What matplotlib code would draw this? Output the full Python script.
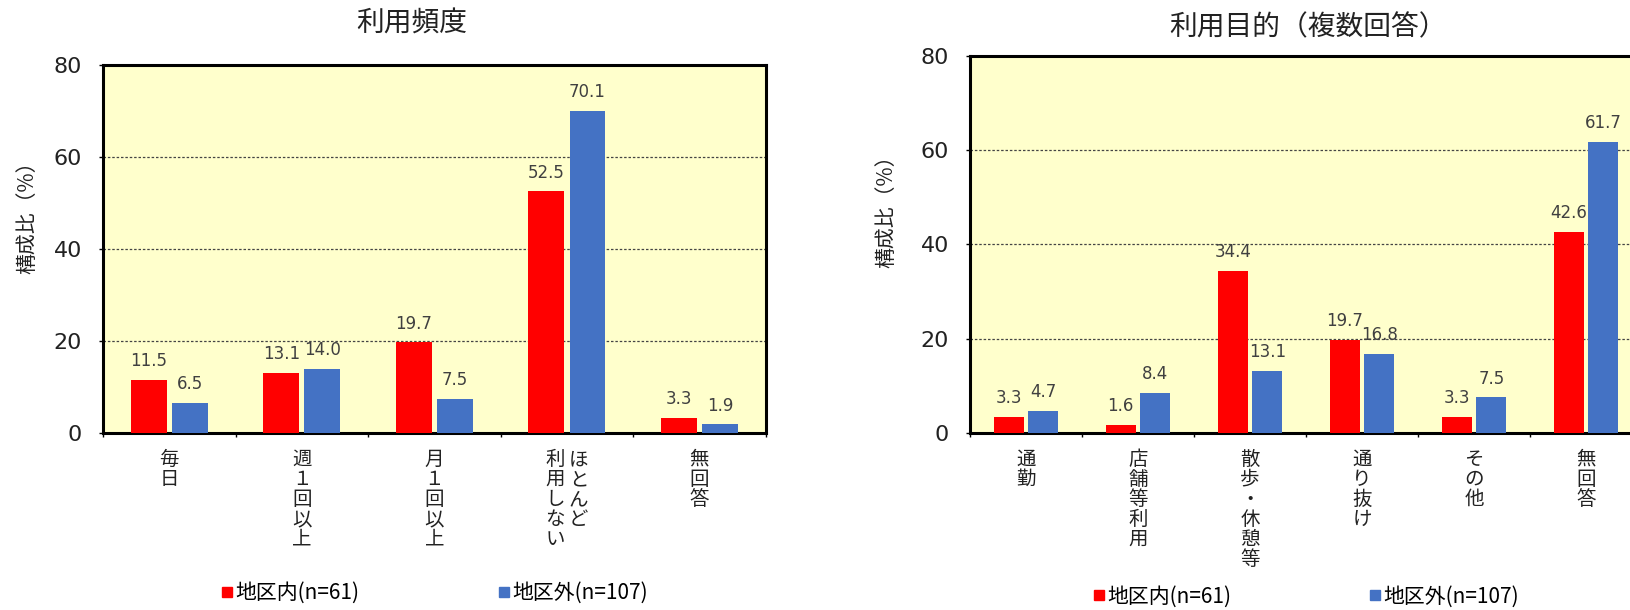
# 利用頻度 / 利用目的 bar charts

import numpy as np
import matplotlib
matplotlib.use('Agg')
import matplotlib.pyplot as plt
from matplotlib.lines import Line2D

plt.rcParams['font.family'] = ['Noto Sans CJK JP', 'DejaVu Sans']

# data
series_names = ['地区内(n=61)', '地区外(n=107)']

freq_labels = ['毎日', '週１回以上', '月１回以上', 'ほとんど|利用しない', '無回答']
freq_inside = [11.5, 13.1, 19.7, 52.5, 3.3]
freq_outside = [6.5, 14.0, 7.5, 70.1, 1.9]

purpose_labels = ['通勤', '店舗等利用', '散歩・休憩等', '通り抜け', 'その他', '無回答']
purpose_inside = [3.3, 1.6, 34.4, 19.7, 3.3, 42.6]
purpose_outside = [4.7, 8.4, 13.1, 16.8, 7.5, 61.7]

RED = '#FF0000'
BLUE = '#4472C4'
BG = '#FFFFCC'


def vertical_label(ax, xc, label):
    """Write a tick label top to bottom, columns right to left"""
    cols = label.split('|')
    n = len(cols)
    for j, col in enumerate(cols):
        dx = ((n - 1) / 2 - j) * 17
        for k, ch in enumerate(col):
            ax.annotate(ch, xy=(xc, 0), xycoords=('data', 'axes fraction'),
                        xytext=(dx, -(23 + k * 14.4)), textcoords='offset points',
                        ha='center', va='baseline', fontsize=14, color='#222222')


def plot_panel(ax, labels, inside, outside, ylab_x, bar_w=0.27, off=0.155):
    x = np.arange(len(labels))
    ax.set_facecolor(BG)
    ax.bar(x - off, inside, bar_w, color=RED, zorder=3)
    ax.bar(x + off, outside, bar_w, color=BLUE, zorder=3)

    for xi, v in zip(x, inside):
        ax.annotate(f'{v:.1f}', (xi - off, v), xytext=(0, 7), textcoords='offset points',
                    ha='center', va='bottom', fontsize=12, family='DejaVu Sans', color='#404040')
    for xi, v in zip(x, outside):
        ax.annotate(f'{v:.1f}', (xi + off, v), xytext=(0, 7), textcoords='offset points',
                    ha='center', va='bottom', fontsize=12, family='DejaVu Sans', color='#404040')

    ax.set_xlim(-0.5, len(labels) - 0.5)
    ax.set_ylim(0, 80)
    ax.set_yticks([0, 20, 40, 60, 80])
    ax.set_yticklabels(['0', '20', '40', '60', '80'], family='DejaVu Sans', fontsize=16, color='#222222')
    ax.set_xticks(np.arange(len(labels) + 1) - 0.5)
    ax.set_xticklabels([])
    ax.tick_params(axis='both', length=3, width=1, direction='out')
    ax.tick_params(axis='y', pad=12)
    for yv in [20, 40, 60]:
        ax.axhline(yv, color='#444444', lw=0.9, ls=(0, (2, 1.5)), zorder=1)
    for s in ax.spines.values():
        s.set_linewidth(2.2)
        s.set_color('black')

    for xi, lab in zip(x, labels):
        vertical_label(ax, xi, lab)

    ax.set_ylabel('構成比（%）', fontsize=15, color='#222222')
    ax.yaxis.set_label_coords(ylab_x, 0.6)

    handles = [Line2D([], [], marker='s', color=RED, ls='none', markersize=7),
               Line2D([], [], marker='s', color=BLUE, ls='none', markersize=7)]
    ax.legend(handles, series_names, loc='center', bbox_to_anchor=(0.5, -0.435), ncol=2,
              frameon=False, fontsize=15, handletextpad=0.1, columnspacing=6.6, handlelength=0.6)


fig = plt.figure(figsize=(16.31, 6.10), dpi=100)
ax1 = fig.add_axes([103 / 1631, 177 / 610, 662.7 / 1631, 368 / 610])
ax2 = fig.add_axes([970 / 1631, 177.3 / 610, 672 / 1631, 376.7 / 610])

plot_panel(ax1, freq_labels, freq_inside, freq_outside, -0.097)
plot_panel(ax2, purpose_labels, purpose_inside, purpose_outside, -0.108)

fig.text(412 / 1631, 1 - 23.5 / 610, '利用頻度', ha='center', va='center', fontsize=20, color='#222222')
fig.text(1308 / 1631, 1 - 27.5 / 610, '利用目的（複数回答）', ha='center', va='center', fontsize=20, color='#222222')

fig.savefig('out.png', dpi=100)
